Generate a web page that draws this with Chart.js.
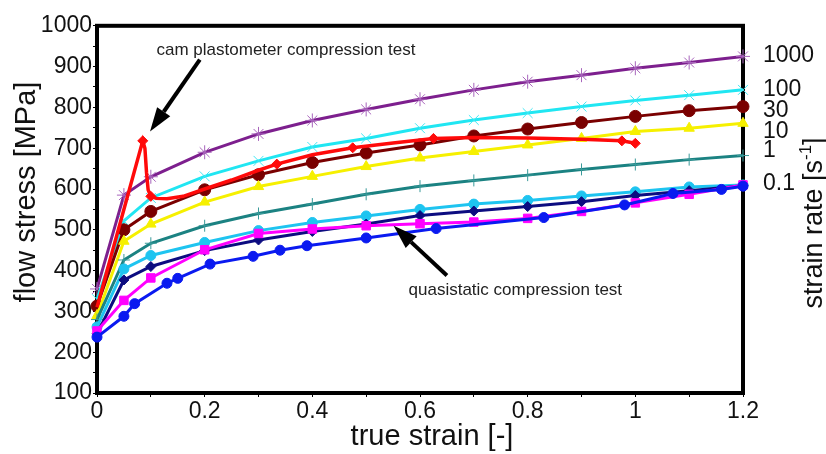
<!DOCTYPE html>
<html>
<head>
<meta charset="utf-8">
<script src="https://cdn.jsdelivr.net/npm/chart.js@4/dist/chart.umd.min.js"></script>
<style>
  html, body { margin: 0; padding: 0; background: #fff; }
  #wrap { width: 826px; height: 454px; position: relative; }
</style>
</head>
<body>
<div id="wrap"><canvas id="canvas"></canvas></div>
<script>
// strain points shared by the strain-rate curves
const strain = [0, 0.05, 0.1, 0.2, 0.3, 0.4, 0.5, 0.6, 0.7, 0.8, 0.9, 1.0, 1.1, 1.2];

// flow stress [MPa] per strain rate
const rate1000 = [355, 585, 630, 690, 735, 768, 795, 820, 843, 863, 879, 896, 910, 925];
const rate100 = [330, 522, 578, 631, 669, 703, 724, 749, 769, 786, 802, 817, 830, 843];
const rate30 = [313, 500, 545, 598, 635, 665, 688, 708, 730, 747, 763, 778, 792, 802];
const rate10 = [290, 472, 514, 568, 606, 631, 655, 676, 692, 708, 724, 741, 749, 761];
const rate1 = [280, 426, 467, 510, 540, 563, 587, 607, 621, 634, 648, 660, 672, 682];
const rate01a = [262, 404, 437, 469, 498, 518, 534, 550, 563, 572, 583, 593, 605, 610];
const rate01b = [245, 377, 410, 449, 475, 496, 514, 535, 546, 557, 569, 584, 596, 608];
const rate01c = [252, 327, 382, 451, 491, 502, 510, 515, 519, 528, 545, 566, 587, 610];

// quasistatic test, measured at its own strains
const quasiStrain = [0, 0.05, 0.07, 0.13, 0.15, 0.21, 0.29, 0.34, 0.39, 0.5, 0.63, 0.83, 0.98, 1.07, 1.16, 1.2];
const quasiStress = [237, 288, 319, 369, 381, 416, 435, 450, 461, 480, 503, 530, 561, 589, 599, 607];

// cam plastometer test
const camStrain = [0, 0.085, 0.089, 0.092, 0.095, 0.1, 0.11, 0.13, 0.16, 0.2, 0.25, 0.3, 0.334, 0.4, 0.475, 0.55, 0.625, 0.7, 0.8, 0.9, 0.975, 1.0];
const camStress = [310, 718, 700, 640, 598, 582, 577, 576, 582, 600, 622, 646, 661, 684, 701, 713, 724, 726, 725, 722, 718, 712];
const camMarked = [0.085, 0.1, 0.334, 0.475, 0.625, 0.975, 1.0];

// right axis: strain rate labels and where they sit on the stress scale
const rateLabels = ["1000", "100", "30", "10", "1", "0.1"];
const rateLabelStress = [927, 844, 793, 741, 693, 612];

const notes = [
  { text: "cam plastometer compression test", at: [0.351, 941], from: [0.191, 917], to: [0.0985, 741] },
  { text: "quasistatic compression test", at: [0.777, 351], from: [0.65, 388], to: [0.551, 510] },
];

const FONT = 'Arial, "Liberation Sans", sans-serif';

const pts = (xs, ys) => xs.map((x, i) => ({ x, y: ys[i] }));

function series(label, xs, ys, color, style, radius, extra) {
  return Object.assign({
    label,
    data: pts(xs, ys),
    borderColor: color,
    backgroundColor: color,
    pointBackgroundColor: color,
    pointBorderColor: color,
    borderWidth: 3,
    pointStyle: style,
    pointRadius: radius,
    pointBorderWidth: 1,
    tension: 0,
    clip: false,
  }, extra || {});
}

const datasets = [
  series("cam plastometer", camStrain, camStress, "#ff0a0a", "rectRot",
    (c) => (camMarked.includes(camStrain[c.dataIndex]) ? 5 : 0), { borderWidth: 3.5 }),
  series("0.1 s-1 (quasistatic)", quasiStrain, quasiStress, "#0a1af0", "circle", 5),
  series("0.1 s-1 c", strain, rate01c, "#ff00ff", "rect", 6),
  series("0.1 s-1 b", strain, rate01b, "#0c0c80", "rectRot", 5),
  series("0.1 s-1 a", strain, rate01a, "#1ec4f0", "circle", 5),
  series("1 s-1", strain, rate1, "#1b8282", "cross", 6, { pointBorderColor: "#3a9a9a" }),
  series("10 s-1", strain, rate10, "#f6f000", "triangle", 6),
  series("30 s-1", strain, rate30, "#7a0000", "circle", 6),
  series("100 s-1", strain, rate100, "#20e6f2", "crossRot", 7, { pointBorderColor: "#40e8f4" }),
  series("1000 s-1", strain, rate1000, "#7d1f8e", "star", 7, { pointBorderColor: "#a865bc" }),
];

function rotatedText(ctx, parts, cx, cy) {
  // parts: [text, size, raise]
  ctx.save();
  ctx.translate(cx, cy);
  ctx.rotate(-Math.PI / 2);
  ctx.textBaseline = "middle";
  ctx.textAlign = "left";
  let total = 0;
  const widths = parts.map(([t, size]) => {
    ctx.font = size + "px " + FONT;
    const w = ctx.measureText(t).width;
    total += w;
    return w;
  });
  let pos = -total / 2;
  parts.forEach(([t, size, raise], i) => {
    ctx.font = size + "px " + FONT;
    ctx.fillText(t, pos, -raise);
    pos += widths[i];
  });
  ctx.restore();
}

const overlay = {
  id: "overlay",
  beforeDatasetsDraw(chart) {
    const { ctx, chartArea: a } = chart;
    ctx.save();
    ctx.strokeStyle = "#000";
    ctx.lineWidth = 4;
    ctx.strokeRect(a.left, a.top, a.width, a.height);
    ctx.restore();
  },
  afterDraw(chart) {
    const { ctx, scales } = chart;
    const X = (v) => scales.x.getPixelForValue(v);
    const Y = (v) => scales.y.getPixelForValue(v);
    ctx.save();
    for (const n of notes) {
      const x1 = X(n.from[0]), y1 = Y(n.from[1]);
      const x2 = X(n.to[0]), y2 = Y(n.to[1]);
      const ang = Math.atan2(y2 - y1, x2 - x1);
      const head = 24, half = 8;
      const bx = x2 - head * Math.cos(ang), by = y2 - head * Math.sin(ang);
      ctx.strokeStyle = "#000";
      ctx.lineWidth = 4;
      ctx.beginPath();
      ctx.moveTo(x1, y1);
      ctx.lineTo(bx, by);
      ctx.stroke();
      ctx.fillStyle = "#000";
      ctx.beginPath();
      ctx.moveTo(x2, y2);
      ctx.lineTo(bx + half * Math.sin(ang), by - half * Math.cos(ang));
      ctx.lineTo(bx - half * Math.sin(ang), by + half * Math.cos(ang));
      ctx.closePath();
      ctx.fill();
      ctx.fillStyle = "#222";
      ctx.font = "17px " + FONT;
      ctx.textAlign = "center";
      ctx.textBaseline = "middle";
      ctx.fillText(n.text, X(n.at[0]), Y(n.at[1]));
    }
    ctx.fillStyle = "#111";
    // axis titles
    ctx.font = "29px " + FONT;
    ctx.textAlign = "center";
    ctx.textBaseline = "middle";
    ctx.fillText("true strain [-]", 432, 437);
    rotatedText(ctx, [["flow stress [MPa]", 29, 0]], 27, 192);
    rotatedText(ctx, [["strain rate [s", 27, 0], ["-1", 17, 9], ["]", 27, 0]], 815, 223);
    ctx.restore();
  },
};

new Chart(document.getElementById("canvas").getContext("2d"), {
  type: "line",
  data: { datasets },
  plugins: [overlay],
  options: {
    responsive: true,
    maintainAspectRatio: false,
    animation: false,
    layout: { padding: { top: 24, left: 0, right: 0, bottom: 0 } },
    plugins: { legend: { display: false }, tooltip: { enabled: false } },
    scales: {
      x: {
        type: "linear",
        min: 0,
        max: 1.2,
        afterFit: (s) => { s.height = 61; },
        border: { display: false },
        grid: { drawOnChartArea: false, tickLength: 4, color: "#000" },
        ticks: {
          stepSize: 0.1,
          padding: 1,
          color: "#111",
          font: { family: FONT, size: 23 },
          callback: (v) => (Math.round(v * 10) % 2 === 0 ? String(Math.round(v * 10) / 10) : ""),
        },
      },
      y: {
        type: "linear",
        position: "left",
        min: 100,
        max: 1000,
        afterFit: (s) => { s.width = 97; },
        border: { display: false },
        grid: { drawOnChartArea: false, tickLength: 4, color: "#000" },
        ticks: {
          stepSize: 50,
          autoSkip: false,
          padding: 1,
          color: "#111",
          font: { family: FONT, size: 23 },
          callback: (v) => (v % 100 === 0 ? String(v) : ""),
        },
      },
      y2: {
        type: "linear",
        position: "right",
        min: 100,
        max: 1000,
        afterFit: (s) => { s.width = 83; },
        afterBuildTicks: (s) => { s.ticks = rateLabelStress.map((v) => ({ value: v })); },
        border: { display: false },
        grid: { display: false },
        ticks: {
          autoSkip: false,
          padding: 12,
          color: "#111",
          font: { family: FONT, size: 23 },
          callback: (v, i) => rateLabels[i],
        },
      },
    },
  },
});
</script>
</body>
</html>
